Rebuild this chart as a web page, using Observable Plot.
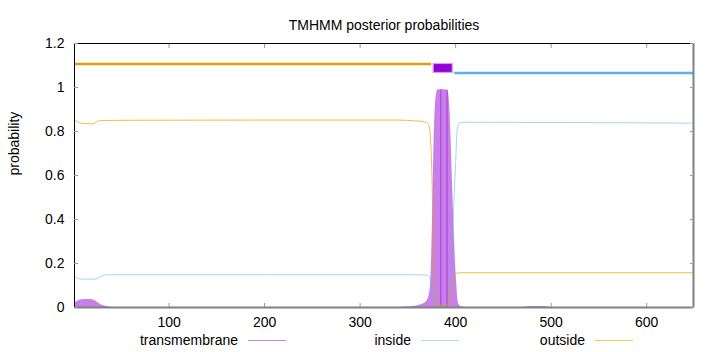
<!DOCTYPE html>
<html><head><meta charset="utf-8">
<script src="https://cdn.jsdelivr.net/npm/d3@7"></script>
<script src="https://cdn.jsdelivr.net/npm/@observablehq/plot@0.6"></script>
<style>
body{margin:0;background:#fff;font-family:"Liberation Sans",Arial,sans-serif;}
#wrap{width:720px;}
#legend{position:relative;width:720px;height:22px;font-size:14px;color:#000;}
#legend .lab{position:absolute;top:0;line-height:20px;white-space:nowrap;}
#legend .sw{position:absolute;top:10px;height:1px;width:38px;}
</style></head><body>
<div id="wrap"><div id="chart"></div>
<div id="legend">
  <span class="lab" style="right:482px">transmembrane</span><span class="sw" style="left:248px;background:#c97fe9"></span>
  <span class="lab" style="right:309px">inside</span><span class="sw" style="left:421px;background:#a9d7f2"></span>
  <span class="lab" style="right:135px">outside</span><span class="sw" style="left:595px;background:#f4c65a"></span>
</div></div>
<script>
const seqLength = 649;
const xTicks = [100, 200, 300, 400, 500, 600];
const yTicks = [0, 0.2, 0.4, 0.6, 0.8, 1, 1.2];

// transmembrane posterior probability
const tmPos  = [1,4,9,14,20,23,27,30,35,40,340,349,360,368,372,374,375,376,377,378,379,380,381.5,388,392,393,394,395,396,397,398,399,400,401,402.5,404,406,410,470,478,486,494,500,649];
const tmProb = [0.018,0.028,0.035,0.036,0.035,0.029,0.017,0.01,0.004,0,0,0.003,0.008,0.02,0.05,0.12,0.25,0.45,0.68,0.84,0.93,0.97,0.99,0.99,0.985,0.96,0.9,0.79,0.66,0.53,0.4,0.29,0.19,0.12,0.03,0.01,0.003,0,0,0.004,0.005,0.004,0,0];
// positions where the impulse rendering shows darker lines
const tmDarkPos  = [384.5, 391];
const tmDarkProb = [0.99, 0.99];

// inside posterior probability
const inPos  = [1,4,8,15,23,27,32,40,200,355,367,370.5,373,374.4,375.8,377.2,380,388,390,392,394,395,396,397,398,399,400,401,402,404,410,649];
const inProb = [0.146,0.133,0.129,0.129,0.129,0.138,0.147,0.149,0.149,0.149,0.148,0.145,0.135,0.108,0.062,0.017,0.005,0.005,0.01,0.02,0.06,0.13,0.22,0.33,0.46,0.57,0.66,0.76,0.82,0.838,0.842,0.838];

// outside posterior probability
const outPos  = [1,3,6,12,19,22,25,29,60,200,340,355,365,369,371.5,373,374,375,376,377,378,379,381,390,392,393.5,395,396.5,398,400,405,649];
const outProb = [0.853,0.847,0.84,0.836,0.835,0.838,0.846,0.85,0.851,0.852,0.852,0.849,0.846,0.841,0.832,0.805,0.74,0.63,0.42,0.2,0.08,0.03,0.01,0.01,0.015,0.03,0.077,0.11,0.138,0.155,0.158,0.158];

// predicted topology (top bars)
const outsideSeg = [{start: 1, end: 375, level: 1.107}];
const tmSeg      = [{start: 377, end: 397, low: 1.066, high: 1.107}];
const insideSeg  = [{start: 399, end: 649, level: 1.066}];

const toRows = (p, v) => p.map((x, i) => ({pos: x, prob: v[i]}));
const tmData = toRows(tmPos, tmProb);
const tmDark = toRows(tmDarkPos, tmDarkProb);
const inData = toRows(inPos, inProb);
const outData = toRows(outPos, outProb);

const chart = Plot.plot({
  width: 720, height: 330,
  marginLeft: 74, marginRight: 27, marginTop: 43, marginBottom: 23,
  style: {fontFamily: '"Liberation Sans", Arial, sans-serif', fontSize: "14px", background: "#fff", color: "#000"},
  x: {domain: [1, seqLength]},
  y: {domain: [0, 1.2]},
  marks: [
    Plot.areaY(tmData, {x: "pos", y: "prob", fill: "#9400d3", fillOpacity: 0.5, curve: "monotone-x"}),
    Plot.ruleX(tmDark, {x: "pos", y1: 0, y2: "prob", stroke: "#9400d3", strokeOpacity: 0.55, strokeWidth: 1}),
    Plot.lineY(inData, {x: "pos", y: "prob", stroke: "#56b4e9", strokeOpacity: 0.55, strokeWidth: 1, curve: "monotone-x"}),
    Plot.lineY(outData, {x: "pos", y: "prob", stroke: "#e69f00", strokeOpacity: 0.7, strokeWidth: 1, curve: "monotone-x"}),
    Plot.ruleY(outsideSeg, {x1: "start", x2: "end", y: "level", stroke: "#e69f00", strokeWidth: 2.5}),
    Plot.ruleY(insideSeg, {x1: "start", x2: "end", y: "level", stroke: "#56b4e9", strokeWidth: 2.5}),
    Plot.rect(tmSeg, {x1: "start", x2: "end", y1: "low", y2: "high", fill: "#9400d3", stroke: "#d3a0ee", strokeWidth: 1.2}),
    Plot.frame({stroke: "#000", strokeWidth: 1}),
    Plot.ruleY([0], {stroke: "#808080", strokeWidth: 2}),
    Plot.ruleX([seqLength], {stroke: "#808080", strokeWidth: 2}),
    Plot.axisY({ticks: yTicks, tickSize: 0, tickPadding: 10, tickFormat: d3.format("~g"), label: null}),
    Plot.axisY({ticks: yTicks, tickSize: -4, tickFormat: () => "", stroke: "#999", label: null}),
    Plot.axisY({ticks: yTicks, anchor: "right", tickSize: -4, tickFormat: () => "", stroke: "#999", label: null}),
    Plot.axisX({ticks: xTicks, tickSize: 0, tickPadding: 10, label: null}),
    Plot.axisX({ticks: xTicks, tickSize: -4, tickFormat: () => "", stroke: "#999", label: null}),
    Plot.axisX({ticks: xTicks, anchor: "top", tickSize: -4, tickFormat: () => "", stroke: "#999", label: null}),
    Plot.text(["probability"], {frameAnchor: "left", dx: -60, rotate: -90, text: d => d, fontSize: 14}),
    Plot.text(["TMHMM posterior probabilities"], {frameAnchor: "top", dy: -23, text: d => d, fontSize: 14})
  ]
});
document.getElementById("chart").appendChild(chart);
</script>
</body></html>
